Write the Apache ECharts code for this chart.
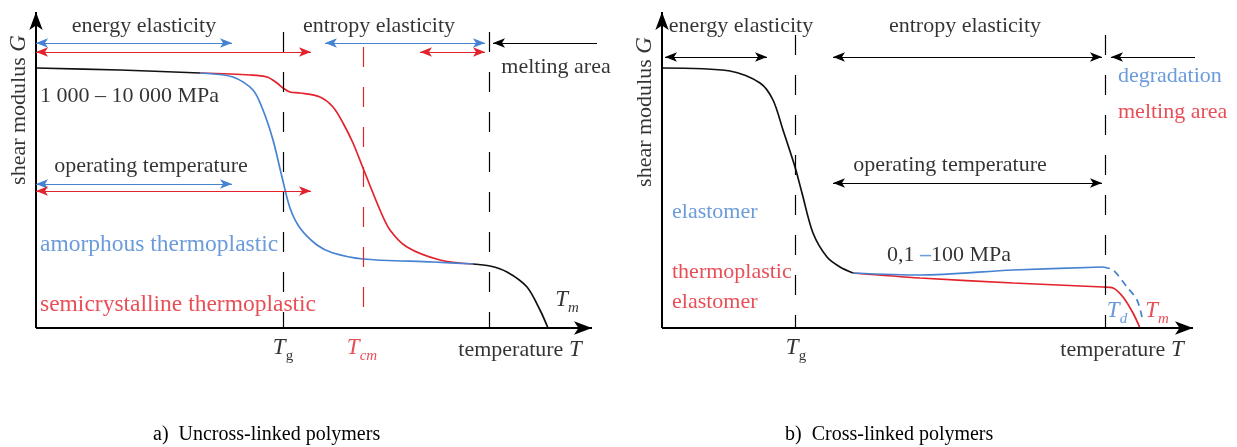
<!DOCTYPE html>
<html>
<head>
<meta charset="utf-8">
<script src="https://cdn.jsdelivr.net/npm/echarts@6/dist/echarts.min.js"></script>
<style>
  html, body { margin: 0; padding: 0; background: #fff; }
  #chart { width: 1237px; height: 447px; }
</style>
</head>
<body>
<div id="chart"></div>
<script>
// schematic units: x = temperature (from origin), y = shear modulus (from baseline)
// panel a) uncross-linked polymers
const aGlassy = [[0,260],[84,258],[164,255]];
const aAmorphous = [[164,255],[197,251],[217,238],[227,218],[237,188],[246,151],[254,120],[264,100],[281,83],[297,75],[327,69],[397,66],[437,64]];
const aSemicryst = [[164,255],[214,253],[231,251],[241,245],[247,240],[254,236],[264,235],[284,231],[297,221],[307,205],[317,185],[327,160],[344,118],[354,98],[371,81],[404,68],[437,64]];
const aMelt = [[437,64],[454,62],[471,56],[491,41],[504,18],[512,0]];
// panel b) cross-linked polymers
const bGlassy = [[0,260],[68,257],[98,245],[111,228],[121,198],[133,161],[140,135],[151,95],[165,71],[178,61],[191,55]];
const bElastomer = [[191,55],[258,53],[351,58],[441,61]];
const bDegrade = [[441,61],[451,58],[465,41],[475,28],[480,11]];
const bTpe = [[191,55],[258,50],[351,45],[441,41],[451,40],[461,31],[471,15],[478,0]];

// ranges [from, to, level]
const aBlueRanges = [[0,196,285],[289,449,285],[0,196,144]];
const aRedRanges = [[0,275,276],[384,449,276],[0,275,137]];
const aMeltRange = [[561,457,285]];
const bRanges = [[3,105,271],[171,440,271],[171,440,145]];
const bMeltRange = [[533,449,271]];
// transition temperatures [x, top]
const aDashed = [[247,296],[453,296]];
const aTcm = [[327,281,20]];
const bDashed = [[133,293],[443,293]];

// notes [text, x, y, style]
const aNotes = [
  ['energy elasticity', 108, 302, 'k'],
  ['entropy elasticity', 343, 302, 'k'],
  ['melting area', 520, 261, 'k'],
  ['operating temperature', 115, 162, 'k'],
  ['1 000 – 10 000 MPa', 4, 232, 'kL'],
  ['{w|amorphous thermoplastic}', 4, 83, 'bL'],
  ['{w|semicrystalline thermoplastic}', 4, 23, 'rL'],
  ['{i|T}{sub|g}', 247, -22, 'k'],
  ['{i|T}{subi|cm}', 326, -22, 'r'],
  ['{n|temperature }{i|T}', 484, -22, 'k'],
  ['{i|T}{subi|m}', 531, 26, 'k'],
  ['{n|shear modulus }{i|G}', -17, 218, 'kV']
];
const bNotes = [
  ['energy elasticity', 79, 302, 'k'],
  ['entropy elasticity', 303, 302, 'k'],
  ['degradation', 456, 252, 'bL'],
  ['melting area', 456, 216, 'rL'],
  ['operating temperature', 288, 163, 'k'],
  ['elastomer', 10, 116, 'bL'],
  ['thermoplastic', 10, 56, 'rL'],
  ['elastomer', 10, 26, 'rL'],
  ['0,1 {bd|–}100 MPa', 225, 73, 'kL'],
  ['{i|T}{subi|d}', 455, 15, 'b'],
  ['{i|T}{subi|m}', 495, 15, 'r'],
  ['{i|T}{sub|g}', 134, -22, 'k'],
  ['{n|temperature }{i|T}', 460, -22, 'k'],
  ['{n|shear modulus }{i|G}', -17, 216, 'kV']
];

const FONT = 'Liberation Serif';
const COL = { k: '#000000', b: '#4682d2', r: '#e2222c' };
const rich = {
  n: { fontFamily: FONT, fontSize: 22 },
  w: { fontFamily: FONT, fontSize: 23.5 },
  i: { fontFamily: FONT, fontSize: 23, fontStyle: 'italic', verticalAlign: 'top' },
  sub: { fontFamily: FONT, fontSize: 15, verticalAlign: 'bottom', lineHeight: 28 },
  subi: { fontFamily: FONT, fontSize: 15, fontStyle: 'italic', verticalAlign: 'bottom', lineHeight: 28 },
  bd: { fontFamily: FONT, fontSize: 22, fontWeight: 'bold', color: COL.b }
};

function curve(data, color, gi, dashed) {
  return {
    type: 'line', xAxisIndex: gi, yAxisIndex: gi, data: data,
    smooth: 0.3, symbol: 'none', silent: true, clip: false,
    lineStyle: { color: color, width: 1.7, type: dashed ? [7, 5] : 'solid' }
  };
}

function marks(gi, symbol, size, lines) {
  return {
    type: 'line', xAxisIndex: gi, yAxisIndex: gi, data: [], silent: true,
    markLine: {
      silent: true, symbol: symbol, symbolSize: size, label: { show: false },
      emphasis: { disabled: true }, animation: false,
      data: lines
    }
  };
}

function ranges(list, color) {
  return list.map(r => [
    { coord: [r[0], r[2]], lineStyle: { color: color, width: 1.1, type: 'solid' } },
    { coord: [r[1], r[2]] }
  ]);
}

function notes(list, gi) {
  return {
    type: 'scatter', xAxisIndex: gi, yAxisIndex: gi, silent: true, clip: false,
    symbolSize: 1, itemStyle: { color: 'rgba(0,0,0,0)' },
    data: list.map(n => ({
      value: [n[1], n[2]],
      label: {
        show: true, position: 'inside', formatter: n[0],
        color: COL[n[3][0]], fontFamily: FONT, fontSize: 22,
        align: n[3].indexOf('L') >= 0 ? 'left' : 'center',
        rotate: n[3].indexOf('V') >= 0 ? 90 : 0,
        rich: rich
      }
    }))
  };
}

const axisStyle = { color: '#000', width: 2, type: 'solid' };
const chart = echarts.init(document.getElementById('chart'));
chart.setOption({
  animation: false,
  backgroundColor: '#fff',
  title: [
    { text: 'a)  Uncross-linked polymers', left: 148, top: 420,
      textStyle: { fontFamily: FONT, fontSize: 20, fontWeight: 'normal', color: '#000' } },
    { text: 'b)  Cross-linked polymers', left: 780, top: 420,
      textStyle: { fontFamily: FONT, fontSize: 20, fontWeight: 'normal', color: '#000' } }
  ],
  grid: [
    { left: 36, top: 12, width: 590, height: 316 },
    { left: 662, top: 12, width: 560, height: 316 }
  ],
  xAxis: [
    { gridIndex: 0, type: 'value', min: 0, max: 590, show: false },
    { gridIndex: 1, type: 'value', min: 0, max: 560, show: false }
  ],
  yAxis: [
    { gridIndex: 0, type: 'value', min: 0, max: 316, show: false },
    { gridIndex: 1, type: 'value', min: 0, max: 316, show: false }
  ],
  series: [
    // axes
    marks(0, ['none', 'arrow'], [10, 18], [
      [{ coord: [0, 0], lineStyle: axisStyle }, { coord: [556, 0] }],
      [{ coord: [0, 0], lineStyle: axisStyle }, { coord: [0, 316] }]
    ]),
    marks(1, ['none', 'arrow'], [10, 18], [
      [{ coord: [0, 0], lineStyle: axisStyle }, { coord: [531, 0] }],
      [{ coord: [0, 0], lineStyle: axisStyle }, { coord: [0, 316] }]
    ]),
    // dashed transition lines
    marks(0, ['none', 'none'], 0, aDashed.map(d => [
      { coord: [d[0], d[1]], lineStyle: { color: '#000', width: 1.2, type: [20, 20] } }, { coord: [d[0], 0] }
    ]).concat(aTcm.map(d => [
      { coord: [d[0], d[1]], lineStyle: { color: COL.r, width: 1.2, type: [20, 20] } }, { coord: [d[0], d[2]] }
    ]))),
    marks(1, ['none', 'none'], 0, bDashed.map(d => [
      { coord: [d[0], d[1]], lineStyle: { color: '#000', width: 1.2, type: [20, 20] } }, { coord: [d[0], 0] }
    ])),
    // range arrows
    marks(0, ['arrow', 'arrow'], [7, 12], ranges(aBlueRanges, COL.b).concat(ranges(aRedRanges, COL.r))),
    marks(0, ['none', 'arrow'], [7, 12], ranges(aMeltRange, '#000')),
    marks(1, ['arrow', 'arrow'], [7, 12], ranges(bRanges, '#000')),
    marks(1, ['none', 'arrow'], [7, 12], ranges(bMeltRange, '#000')),
    // curves
    curve(aGlassy, '#111', 0),
    curve(aSemicryst, COL.r, 0),
    curve(aAmorphous, COL.b, 0),
    curve(aMelt, '#111', 0),
    curve(bGlassy, '#111', 1),
    curve(bTpe, COL.r, 1),
    curve(bElastomer, COL.b, 1),
    curve(bDegrade, COL.b, 1, true),
    // text
    notes(aNotes, 0),
    notes(bNotes, 1)
  ]
});
window.addEventListener('resize', function () { chart.resize(); });
</script>
</body>
</html>
